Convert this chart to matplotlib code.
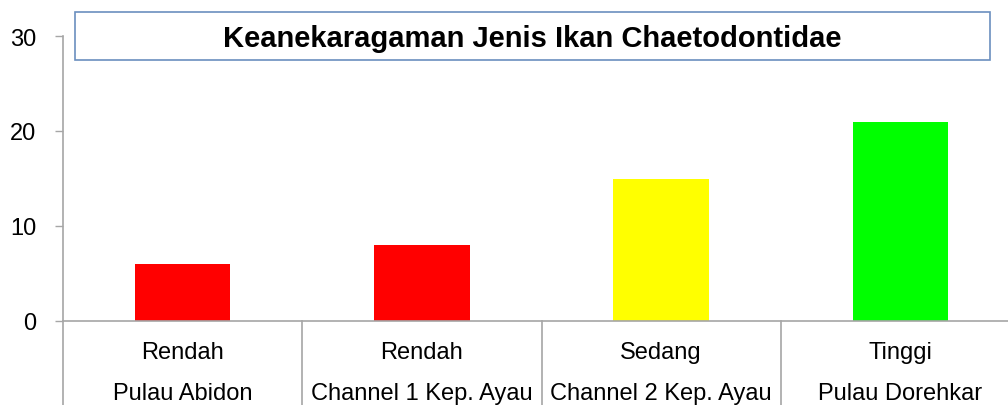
import matplotlib.pyplot as plt
from matplotlib.patches import Rectangle

plt.rcParams['font.family'] = ['Liberation Sans', 'DejaVu Sans']

levels = ["Rendah", "Rendah", "Sedang", "Tinggi"]
sites = ["Pulau Abidon", "Channel 1 Kep. Ayau", "Channel 2 Kep. Ayau", "Pulau Dorehkar"]
jumlah = [6, 8, 15, 21]
warna = ["#FF0000", "#FF0000", "#FFFF00", "#00FF00"]
yticks = [0, 10, 20, 30]
judul = "Keanekaragaman Jenis Ikan Chaetodontidae"

W, H = 1008, 406
grey = "#A6A6A6"

fig = plt.figure(figsize=(W / 100, H / 100), dpi=100)
# axes box in pixels: x 63..1020, y 37..322 (top origin)
ax = fig.add_axes([63 / W, (H - 322) / H, (1020 - 63) / W, 285 / H])

x = list(range(len(jumlah)))
ax.bar(x, jumlah, width=0.4, color=warna, zorder=2)

ax.set_xlim(-0.5, len(jumlah) - 0.5)
ax.set_ylim(0, 30)
ax.set_yticks(yticks)
ax.tick_params(axis='y', labelsize=17, length=6, width=1, color=grey, pad=13)
ax.set_xticks([])

for s in ['top', 'right']:
    ax.spines[s].set_visible(False)
for s in ['left', 'bottom']:
    ax.spines[s].set_color(grey)
    ax.spines[s].set_linewidth(1.2)

# category separators of the two-level axis
for b in range(len(jumlah) + 1):
    ax.plot([b - 0.5, b - 0.5], [0, -0.4], color=grey, lw=1.2,
            transform=ax.get_xaxis_transform(), clip_on=False)

for i in x:
    ax.annotate(levels[i], xy=(i, 0), xycoords=('data', 'axes fraction'),
                xytext=(0, -31), textcoords='offset pixels',
                ha='center', va='center', fontsize=17)
    ax.annotate(sites[i], xy=(i, 0), xycoords=('data', 'axes fraction'),
                xytext=(0, -72), textcoords='offset pixels',
                ha='center', va='center', fontsize=17)

# title box
fig.patches.append(Rectangle((75 / W, (H - 61) / H), 915 / W, 48 / H,
                             transform=fig.transFigure, fill=True,
                             facecolor='white', edgecolor='#6B8FBF', lw=1.2))
fig.text(532 / W, (H - 39) / H, judul, ha='center', va='center',
         fontsize=21, fontweight='bold')

fig.savefig("out.png", dpi=100)
